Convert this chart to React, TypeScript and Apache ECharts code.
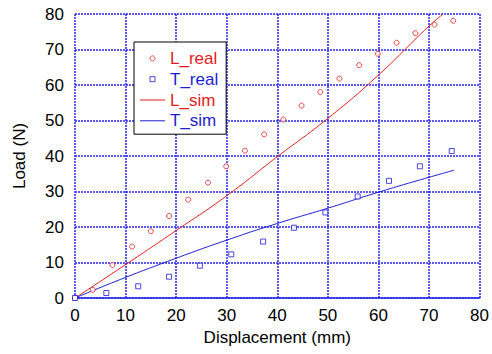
import React, { useEffect, useRef } from "react";
import * as echarts from "echarts";

const xTicks = [0, 10, 20, 30, 40, 50, 60, 70, 80];
const yTicks = [0, 10, 20, 30, 40, 50, 60, 70, 80];

const lReal: [number, number][] = [
  [0, 0], [3.5, 2.3], [7.4, 9.3], [11.3, 14.5], [15, 18.8], [18.6, 23.1], [22.4, 27.7],
  [26.3, 32.5], [29.9, 37.1], [33.6, 41.5], [37.4, 46.1], [41.2, 50.3], [44.8, 54.2],
  [48.5, 58.0], [52.3, 61.8], [56.2, 65.6], [59.9, 68.8], [63.6, 71.9], [67.3, 74.6],
  [71.1, 77.0], [74.8, 78.1],
];

const tReal: [number, number][] = [
  [0, 0], [6.2, 1.4], [12.5, 3.3], [18.6, 6.0], [24.7, 9.1], [30.9, 12.3], [37.2, 15.9],
  [43.3, 19.8], [49.5, 24.1], [55.9, 28.6], [62.1, 33.0], [68.2, 37.1], [74.5, 41.4],
];

const lSim: [number, number][] = [
  [0, 0], [10, 9.4], [20, 19.0], [30, 28.8], [40, 39.8], [50, 50.6], [60, 62.8],
  [70, 76.6], [72.8, 80],
];

const tSim: [number, number][] = [
  [0, 0], [10, 5.8], [20, 11.2], [30, 16.3], [40, 21.0], [50, 25.3], [60, 29.8],
  [70, 34.0], [75, 36.0],
];

const RED = "#e31b1b";
const BLUE = "#1c1cd2";
const GRID_BLUE = "#2424f0";
const FONT = "Liberation Sans, Arial, sans-serif";

export default function App() {
  const ref = useRef<HTMLDivElement>(null);

  useEffect(() => {
    if (!ref.current) return;
    const chart = echarts.init(ref.current, undefined, { renderer: "svg" });
    const splitLine = {
      show: true,
      lineStyle: { color: GRID_BLUE, width: 1.5, type: [2, 1] as number[] },
    };
    chart.setOption({
      animation: false,
      backgroundColor: "#fff",
      textStyle: { fontFamily: FONT },
      grid: { left: 75, right: 11, top: 14, bottom: 56, containLabel: false },
      xAxis: {
        type: "value",
        min: xTicks[0],
        max: xTicks[xTicks.length - 1],
        interval: xTicks[1] - xTicks[0],
        name: "Displacement (mm)",
        nameLocation: "middle",
        nameGap: 30,
        nameTextStyle: { fontSize: 17, color: "#000", fontFamily: FONT },
        axisLine: { show: true, lineStyle: { color: GRID_BLUE, width: 1.5 } },
        axisTick: { show: false },
        axisLabel: { fontSize: 17, color: "#000", margin: 9, fontFamily: FONT },
        splitLine,
      },
      yAxis: {
        type: "value",
        min: yTicks[0],
        max: yTicks[yTicks.length - 1],
        interval: yTicks[1] - yTicks[0],
        name: "Load (N)",
        nameLocation: "middle",
        nameGap: 47,
        nameTextStyle: { fontSize: 17, color: "#000", fontFamily: FONT },
        axisLine: { show: false },
        axisTick: { show: false },
        axisLabel: { fontSize: 17, color: "#000", margin: 11, fontFamily: FONT },
        splitLine,
      },
      legend: {
        orient: "vertical",
        left: 134,
        top: 42,
        padding: [6, 8, 3, 6],
        borderColor: "#000",
        borderWidth: 1,
        borderRadius: 0,
        backgroundColor: "#fff",
        itemWidth: 25,
        itemHeight: 5,
        itemGap: 0,
        symbolKeepAspect: true,
        textStyle: { fontSize: 17, lineHeight: 20.8, fontFamily: FONT },
        data: [
          {
            name: "L_real",
            icon: "circle",
            itemStyle: { color: "#fff", borderColor: RED, borderWidth: 1 },
            textStyle: { color: RED },
          },
          {
            name: "T_real",
            icon: "path://M0 0 H10 V10 H0 Z",
            itemStyle: { color: "#fff", borderColor: BLUE, borderWidth: 1 },
            textStyle: { color: BLUE },
          },
          {
            name: "L_sim",
            icon: "path://M0 0 H25 V1 H0 Z",
            itemStyle: { color: RED, borderWidth: 0 },
            textStyle: { color: RED },
          },
          {
            name: "T_sim",
            icon: "path://M0 0 H25 V1 H0 Z",
            itemStyle: { color: BLUE, borderWidth: 0 },
            textStyle: { color: BLUE },
          },
        ],
      },
      series: [
        {
          name: "L_real",
          type: "scatter",
          data: lReal,
          symbol: "circle",
          symbolSize: 5,
          itemStyle: { color: "#fff", borderColor: RED, borderWidth: 1 },
          z: 3,
        },
        {
          name: "T_real",
          type: "scatter",
          data: tReal,
          symbol: "rect",
          symbolSize: 5,
          itemStyle: { color: "#fff", borderColor: BLUE, borderWidth: 1 },
          z: 3,
        },
        {
          name: "L_sim",
          type: "line",
          data: lSim,
          symbol: "none",
          smooth: true,
          lineStyle: { color: RED, width: 1 },
          itemStyle: { color: RED },
          z: 2,
        },
        {
          name: "T_sim",
          type: "line",
          data: tSim,
          symbol: "none",
          smooth: true,
          lineStyle: { color: BLUE, width: 1 },
          itemStyle: { color: BLUE },
          z: 2,
        },
      ],
    });
    return () => chart.dispose();
  }, []);

  return (
    <div
      ref={ref}
      style={{ position: "fixed", left: 0, top: 0, width: 492, height: 354, background: "#fff" }}
    />
  );
}
